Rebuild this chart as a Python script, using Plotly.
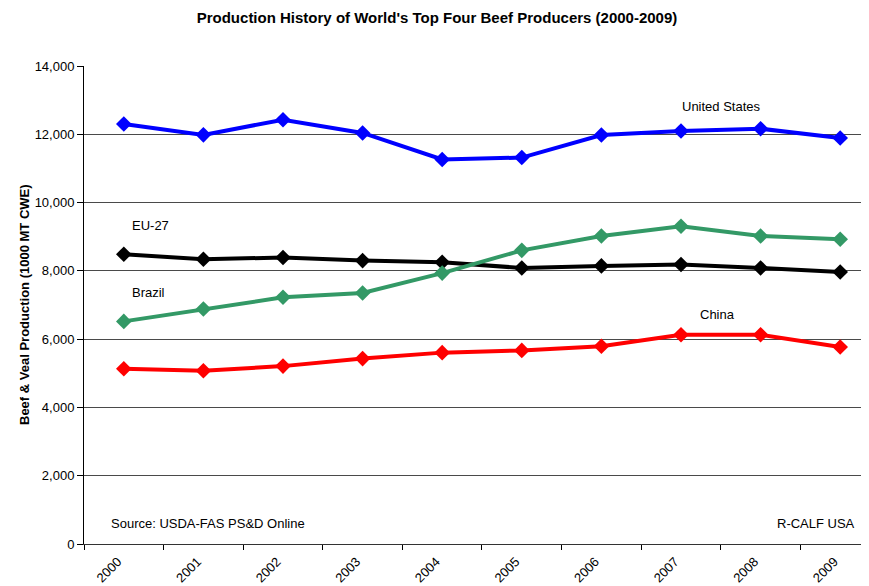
import plotly.graph_objects as go

years = ["2000", "2001", "2002", "2003", "2004", "2005", "2006", "2007", "2008", "2009"]
united_states = [12300, 11983, 12427, 12039, 11261, 11318, 11980, 12097, 12163, 11891]
eu_27 = [8485, 8340, 8390, 8300, 8250, 8085, 8145, 8185, 8085, 7965]
brazil = [6520, 6885, 7225, 7350, 7935, 8600, 9020, 9305, 9020, 8925]
china = [5135, 5075, 5210, 5430, 5605, 5670, 5790, 6130, 6130, 5770]

series = [
    ("United States", united_states, "#0000FF"),
    ("EU-27", eu_27, "#000000"),
    ("Brazil", brazil, "#339966"),
    ("China", china, "#FF0000"),
]

xpos = list(range(len(years)))
fig = go.Figure()
for name, vals, col in series:
    fig.add_trace(go.Scatter(
        x=xpos, y=vals, name=name, mode="lines+markers",
        line=dict(color=col, width=4),
        marker=dict(symbol="diamond", size=12, color=col),
    ))

font = "Liberation Sans, Arial, sans-serif"
# page has an 8px body margin; work in page pixel coordinates
OFF = 8
W, H = 869 - OFF, 586 - OFF
plot_l, plot_r, plot_t, plot_b = 84, 869, 66, 544  # page coords
fig.update_layout(
    width=W, height=H,
    margin=dict(l=plot_l - OFF, r=0, t=plot_t - OFF, b=H - (plot_b - OFF)),
    paper_bgcolor="white", plot_bgcolor="white",
    showlegend=False,
    font=dict(family=font, size=13, color="black"),
    title=dict(text="<b>Production History of World's Top Four Beef Producers (2000-2009)</b>",
               x=(437 - OFF) / W, xanchor="center", y=1 - (18 - OFF) / H, yanchor="middle",
               font=dict(size=15, family=font, color="black")),
    xaxis=dict(
        range=[-0.5, 9.362], tickmode="array", tickvals=xpos, ticktext=years,
        tickangle=-45, ticks="", showgrid=False, zeroline=False, automargin=False,
        showline=True, linecolor="#333333", linewidth=1,
        ticklabelstandoff=4, ticklabelshift=-6,
        tickfont=dict(size=13, family=font),
        minor=dict(tickmode="array", tickvals=[i - 0.5 for i in range(11)],
                   ticks="outside", ticklen=5, tickcolor="black", showgrid=False),
    ),
    yaxis=dict(
        range=[0, 14000], tickmode="array", tickvals=list(range(0, 14001, 2000)),
        tickformat=",d", ticks="outside", ticklen=6, tickcolor="black",
        showgrid=True, gridcolor="#4a4a4a", gridwidth=1, zeroline=False, automargin=False,
        showline=True, linecolor="black", linewidth=1,
        tickfont=dict(size=13, family=font),
    ),
)

def px2paper(px, py):
    return (px - plot_l) / (plot_r - plot_l), (plot_b - py) / (plot_b - plot_t)

annots = [
    ("United States", 721, 106),
    ("EU-27", 150, 225),
    ("Brazil", 148, 292),
    ("China", 717, 314),
    ("Source: USDA-FAS PS&D Online", 208, 523),
    ("R-CALF USA", 816, 523),
]
for txt, px, py in annots:
    ax, ay = px2paper(px, py)
    fig.add_annotation(text=txt, x=ax, y=ay, xref="paper", yref="paper",
                       xanchor="center", yanchor="middle", showarrow=False,
                       font=dict(size=13, family=font, color="black"))

ax, ay = px2paper(24, 305)
fig.add_annotation(text="<b>Beef & Veal Production (1000 MT CWE)</b>", x=ax, y=ay,
                   xref="paper", yref="paper", xanchor="center", yanchor="middle",
                   textangle=-90, showarrow=False,
                   font=dict(size=13, family=font, color="black"))

fig.write_html("out.html")
